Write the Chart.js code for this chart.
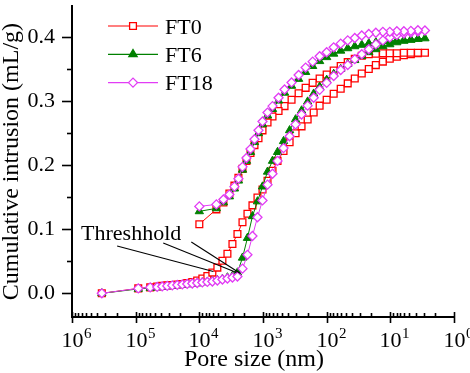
<!DOCTYPE html>
<html>
<head>
<meta charset="utf-8">
<script src="https://cdn.jsdelivr.net/npm/chart.js@4.4.0/dist/chart.umd.min.js"></script>
<style>
  html, body { margin: 0; padding: 0; background: #fff; }
</style>
</head>
<body>
<canvas id="chart" width="470" height="373"></canvas>
<script>
// pore size steps (nm), intrusion goes from large to small pores
const intrusionSize = [340000, 91000, 59100, 45900, 38300, 31900, 26600, 22200, 18500, 15500,
    12900, 10800, 8970, 7480, 6240, 5210, 4340, 3620, 3020, 2520,
    2100, 1755, 1464, 1221, 1018, 849, 709, 591, 476, 382,
    308, 248, 199, 160, 129, 100, 77.6, 60.2, 46.7, 36.2,
    28.1, 21.8, 16.9, 13.1, 10.2, 7.9, 6.13, 4.76, 3.69, 2.86];
// extrusion goes back from small to large pores
const extrusionSize = [3.69, 4.76, 6.13, 7.9, 10.2, 13.1, 16.9, 21.8, 28.1, 36.2,
    46.7, 60.2, 77.6, 100, 129, 166, 214, 276, 356, 459,
    570, 709, 849, 1018, 1177, 1361, 1573, 1819, 2100, 2431,
    2810, 3371, 4188, 5400, 10000];

// cumulative intrusion (mL/g)
const ft0Intrusion = [0, 0.0077, 0.0093, 0.0108, 0.0116, 0.0124, 0.0131, 0.0139, 0.0147, 0.0162,
    0.0178, 0.0201, 0.0232, 0.0270, 0.0324, 0.0402, 0.0510, 0.0618, 0.0772, 0.0927,
    0.1112, 0.1243, 0.1375, 0.1498, 0.1622, 0.1761, 0.1915, 0.2070, 0.2224, 0.2363,
    0.2502, 0.2610, 0.2718, 0.2826, 0.2934, 0.3027, 0.3120, 0.3197, 0.3282, 0.3359,
    0.3436, 0.3506, 0.3568, 0.3622, 0.3668, 0.3699, 0.3722, 0.3738, 0.3753, 0.3761];
const ft0Extrusion = [0.3761, 0.3761, 0.3761, 0.3753, 0.3753, 0.3753, 0.3745, 0.3738, 0.3714, 0.3668,
    0.3614, 0.3552, 0.3483, 0.3421, 0.3359, 0.3290, 0.3212, 0.3127, 0.3027, 0.2927,
    0.2849, 0.2765, 0.2672, 0.2548, 0.2425, 0.2317, 0.2193, 0.2070, 0.1946, 0.1807,
    0.1683, 0.1560, 0.1421, 0.1313, 0.1081];

const ft6Intrusion = [0, 0.0069, 0.0085, 0.0093, 0.0100, 0.0108, 0.0116, 0.0124, 0.0131, 0.0139,
    0.0147, 0.0154, 0.0170, 0.0178, 0.0193, 0.0208, 0.0224, 0.0247, 0.0270, 0.0324,
    0.0556, 0.0865, 0.1205, 0.1436, 0.1668, 0.1900, 0.2070, 0.2208, 0.2378, 0.2548,
    0.2718, 0.2857, 0.2996, 0.3120, 0.3228, 0.3336, 0.3429, 0.3506, 0.3583, 0.3645,
    0.3707, 0.3768, 0.3815, 0.3861, 0.3892, 0.3923, 0.3946, 0.3961, 0.3977, 0.3985];
const ft6Extrusion = [0.3977, 0.3969, 0.3961, 0.3954, 0.3946, 0.3938, 0.3923, 0.3907, 0.3884, 0.3861,
    0.3830, 0.3792, 0.3745, 0.3691, 0.3629, 0.3552, 0.3459, 0.3351, 0.3243, 0.3135,
    0.3012, 0.2880, 0.2780, 0.2641, 0.2502, 0.2363, 0.2208, 0.2070, 0.1931, 0.1761,
    0.1637, 0.1514, 0.1421, 0.1328, 0.1282];

const ft18Intrusion = [0, 0.0077, 0.0093, 0.0100, 0.0108, 0.0116, 0.0124, 0.0131, 0.0139, 0.0147,
    0.0154, 0.0162, 0.0170, 0.0178, 0.0185, 0.0201, 0.0216, 0.0232, 0.0247, 0.0263,
    0.0386, 0.0602, 0.0896, 0.1189, 0.1452, 0.1699, 0.1869, 0.2070, 0.2270, 0.2456,
    0.2641, 0.2795, 0.2934, 0.3058, 0.3181, 0.3290, 0.3398, 0.3491, 0.3568, 0.3660,
    0.3737, 0.3815, 0.3892, 0.3954, 0.4000, 0.4039, 0.4062, 0.4077, 0.4093, 0.4108];
const ft18Extrusion = [0.4113, 0.4103, 0.4097, 0.4097, 0.4088, 0.4088, 0.4073, 0.4054, 0.4031, 0.3992,
    0.3954, 0.3903, 0.3846, 0.3768, 0.3707, 0.3622, 0.3529, 0.3413, 0.3297, 0.3186,
    0.3058, 0.2927, 0.2826, 0.2687, 0.2548, 0.2409, 0.2255, 0.2116, 0.1977, 0.1792,
    0.1668, 0.1544, 0.1467, 0.1390, 0.1359];

// threshold points (FT0, FT6, FT18)
const thresholdSize = [6025, 2614, 2261];
const thresholdValue = [0.0340, 0.0324, 0.0309];

const yTicks = [0, 0.1, 0.2, 0.3, 0.4];
const xDecades = [0, 1, 2, 3, 4, 5, 6];

const FONT = "'Liberation Serif', 'Times New Roman', serif";
Chart.defaults.font.family = FONT;
Chart.defaults.color = '#000';

function points(sizes, values) {
    return sizes.map((s, i) => ({x: s, y: values[i]}));
}

function drawMarker(ctx, style, x, y, r, stroke, fill) {
    ctx.beginPath();
    if (style === 'rect') {
        let s = Math.SQRT1_2 * r;
        ctx.rect(x - s, y - s, 2 * s, 2 * s);
    } else if (style === 'triangle') {
        ctx.moveTo(x, y - r);
        ctx.lineTo(x + 0.866 * r, y + 0.5 * r);
        ctx.lineTo(x - 0.866 * r, y + 0.5 * r);
        ctx.closePath();
    } else {
        ctx.moveTo(x - r, y);
        ctx.lineTo(x, y - r);
        ctx.lineTo(x + r, y);
        ctx.lineTo(x, y + r);
        ctx.closePath();
    }
    ctx.fillStyle = fill;
    ctx.fill();
    ctx.lineWidth = 1.3;
    ctx.strokeStyle = stroke;
    ctx.stroke();
}

// tick marks, x labels with exponents, x title, legend
const decorations = {
    id: 'decorations',
    afterDatasetsDraw(chart) {
        const {ctx, scales: {x, y}} = chart;
        // threshold note
        ctx.save();
        ctx.strokeStyle = '#000';
        ctx.lineWidth = 1.1;
        const from = [[195600, 0.0741], [36900, 0.0788], [13370, 0.0803]];
        for (let i = 0; i < thresholdSize.length; i++) {
            ctx.beginPath();
            ctx.moveTo(x.getPixelForValue(from[i][0]), y.getPixelForValue(from[i][1]));
            ctx.lineTo(x.getPixelForValue(thresholdSize[i]), y.getPixelForValue(thresholdValue[i]));
            ctx.stroke();
        }
        ctx.fillStyle = '#000';
        ctx.font = '22px ' + FONT;
        ctx.textAlign = 'left';
        ctx.textBaseline = 'alphabetic';
        ctx.fillText('Threshhold', x.getPixelForValue(721000), y.getPixelForValue(0.0834));
        ctx.restore();
    },
    afterDraw(chart) {
        const {ctx, chartArea: area, scales: {x, y}} = chart;
        ctx.save();
        ctx.strokeStyle = '#000';
        ctx.fillStyle = '#000';
        ctx.lineWidth = 1.6;
        // y ticks
        yTicks.forEach(v => {
            let py = Math.round(y.getPixelForValue(v)) + 0.5;
            ctx.beginPath();
            ctx.moveTo(area.left - 10, py);
            ctx.lineTo(area.left, py);
            ctx.stroke();
            let pm = Math.round(y.getPixelForValue(v + 0.05)) + 0.5;
            if (v + 0.05 < y.max) {
                ctx.beginPath();
                ctx.moveTo(area.left - 5, pm);
                ctx.lineTo(area.left, pm);
                ctx.stroke();
            }
        });
        // x ticks and labels
        xDecades.forEach(k => {
            let base = Math.pow(10, k);
            let px = Math.round(x.getPixelForValue(base)) + 0.5;
            ctx.beginPath();
            ctx.moveTo(px, area.bottom - 5);
            ctx.lineTo(px, area.bottom + 6);
            ctx.stroke();
            if (k < 6) {
                for (let m = 2; m <= 9; m++) {
                    let pm = Math.round(x.getPixelForValue(m * base)) + 0.5;
                    ctx.beginPath();
                    ctx.moveTo(pm, area.bottom - 4);
                    ctx.lineTo(pm, area.bottom);
                    ctx.stroke();
                }
            }
            ctx.font = '22px ' + FONT;
            ctx.textAlign = 'center';
            ctx.textBaseline = 'alphabetic';
            ctx.fillText('10', px, area.bottom + 30);
            let w = ctx.measureText('10').width;
            ctx.font = '15px ' + FONT;
            ctx.textAlign = 'left';
            ctx.fillText(String(k), px + w / 2 + 0.5, area.bottom + 21);
        });
        // x title
        ctx.font = '24px ' + FONT;
        ctx.textAlign = 'center';
        ctx.fillText('Pore size (nm)', (area.left + area.right) / 2 - 9, area.bottom + 49);
        // legend
        chart.data.datasets.forEach((ds, i) => {
            let ly = 26 + i * 28.3;
            ctx.strokeStyle = ds.borderColor;
            ctx.lineWidth = 1.2;
            ctx.beginPath();
            ctx.moveTo(108, ly);
            ctx.lineTo(158, ly);
            ctx.stroke();
            drawMarker(ctx, ds.pointStyle, 133, ly, ds.pointRadius, ds.borderColor, ds.backgroundColor);
            ctx.fillStyle = '#000';
            ctx.font = '22px ' + FONT;
            ctx.textAlign = 'left';
            ctx.fillText(ds.label, 165, ly + 7.5);
        });
        ctx.restore();
    }
};

const red = '#FF0000';
const green = '#008000';
const magenta = '#E23CF5';

new Chart(document.getElementById('chart'), {
    type: 'scatter',
    data: {
        datasets: [{
            label: 'FT0',
            data: points(intrusionSize, ft0Intrusion).concat(points(extrusionSize, ft0Extrusion)),
            borderColor: red,
            backgroundColor: '#FFFFFF',
            pointStyle: 'rect',
            pointRadius: 4.8,
            pointBorderWidth: 1.3,
            borderWidth: 1,
            showLine: true,
            order: 3
        }, {
            label: 'FT6',
            data: points(intrusionSize, ft6Intrusion).concat(points(extrusionSize, ft6Extrusion)),
            borderColor: green,
            backgroundColor: green,
            pointStyle: 'triangle',
            pointRadius: 4.8,
            pointBorderWidth: 1,
            borderWidth: 1,
            showLine: true,
            order: 2
        }, {
            label: 'FT18',
            data: points(intrusionSize, ft18Intrusion).concat(points(extrusionSize, ft18Extrusion)),
            borderColor: magenta,
            backgroundColor: '#FFFFFF',
            pointStyle: 'rectRot',
            pointRadius: 4.5,
            pointBorderWidth: 1.3,
            borderWidth: 1,
            showLine: true,
            order: 1
        }]
    },
    options: {
        responsive: false,
        animation: false,
        layout: { padding: { top: 2, right: 16, bottom: 0, left: 0 } },
        plugins: {
            legend: { display: false },
            tooltip: { enabled: false }
        },
        scales: {
            x: {
                type: 'logarithmic',
                reverse: true,
                min: 1,
                max: 1000000,
                ticks: { display: false },
                grid: { display: false, drawTicks: false },
                border: { display: true, color: '#000', width: 2 },
                afterFit(scale) { scale.height = 56; }
            },
            y: {
                min: -0.037,
                max: 0.449,
                ticks: {
                    stepSize: 0.1,
                    includeBounds: false,
                    padding: 17,
                    color: '#000',
                    font: { size: 22 },
                    callback: v => v.toFixed(1)
                },
                grid: { display: false, drawTicks: false },
                border: { display: true, color: '#000', width: 2 },
                title: {
                    display: true,
                    text: 'Cumulative intrusion (mL/g)',
                    color: '#000',
                    font: { size: 24, lineHeight: 1 },
                    padding: 0
                },
                afterFit(scale) {
                    scale.width = 72;
                    scale.paddingTop = 0;
                    scale.paddingBottom = 0;
                }
            }
        }
    },
    plugins: [decorations]
});
</script>
</body>
</html>
